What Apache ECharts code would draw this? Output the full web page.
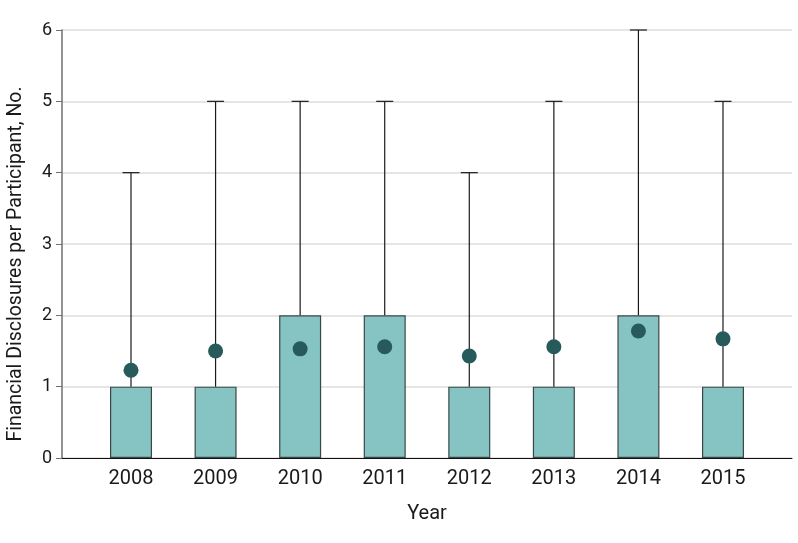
<!DOCTYPE html>
<html>
<head>
<meta charset="utf-8">
<script src="https://cdn.jsdelivr.net/npm/echarts@6/dist/echarts.min.js"></script>
<style>html,body{margin:0;padding:0;background:#fff}#c{width:798px;height:543px}</style>
</head>
<body>
<div id="c"></div>
<script>
const years = [2008, 2009, 2010, 2011, 2012, 2013, 2014, 2015];
const upperQuartile = [1, 1, 2, 2, 1, 1, 2, 1];
const maxValues = [4, 5, 5, 5, 4, 5, 6, 5];
const means = [1.23, 1.50, 1.53, 1.56, 1.43, 1.56, 1.78, 1.67];
const yTicks = [0, 1, 2, 3, 4, 5, 6];

const FONT = 'Roboto';
const chart = echarts.init(document.getElementById('c'));
chart.setOption({
  animation: false,
  backgroundColor: '#fff',
  grid: { left: 62, right: 6, top: 30, bottom: 85, containLabel: false, outerBoundsMode: 'none' },
  xAxis: {
    type: 'value',
    min: years[0] - 0.816,
    max: years[years.length - 1] + 0.816,
    name: 'Year',
    nameLocation: 'middle',
    nameGap: 46,
    nameTextStyle: { fontFamily: FONT, fontSize: 20, color: '#1a1a1a' },
    axisLine: { show: true, onZero: false, lineStyle: { color: '#111', width: 1 } },
    axisTick: { show: false },
    splitLine: { show: false },
    axisLabel: {
      customValues: years,
      margin: 11,
      fontFamily: FONT, fontSize: 20, color: '#1a1a1a',
      formatter: v => String(Math.round(v))
    }
  },
  yAxis: {
    type: 'value',
    min: yTicks[0],
    max: yTicks[yTicks.length - 1],
    interval: 1,
    name: 'Financial Disclosures per Participant, No.',
    nameLocation: 'middle',
    nameGap: 36,
    nameTextStyle: { fontFamily: FONT, fontSize: 19.5, color: '#1a1a1a', padding: [0, 40, 0, 0] },
    axisLine: { show: true, lineStyle: { color: '#6f6f6f', width: 1.5 } },
    axisTick: { show: true, length: 6, lineStyle: { color: '#6f6f6f' } },
    axisLabel: { margin: 10, fontFamily: FONT, fontSize: 18, color: '#1a1a1a' },
    splitLine: { show: true, lineStyle: { color: '#dcdcdc', width: 1.5 } }
  },
  series: [
    {
      type: 'bar',
      data: years.map((y, i) => [y, upperQuartile[i]]),
      barWidth: 42,
      itemStyle: { color: '#86c4c3', borderColor: '#3a4747', borderWidth: 1.2 },
      z: 2
    },
    {
      type: 'custom',
      clip: false,
      data: years.map((y, i) => [y, upperQuartile[i], maxValues[i]]),
      renderItem: function (params, api) {
        const x = api.value(0);
        const p1 = api.coord([x, api.value(1)]);
        const p2 = api.coord([x, api.value(2)]);
        return {
          type: 'group',
          children: [
            { type: 'line', shape: { x1: p1[0], y1: p1[1], x2: p2[0], y2: p2[1] }, style: { stroke: '#1a1a1a', lineWidth: 1.2 } },
            { type: 'line', shape: { x1: p2[0] - 8.5, y1: p2[1], x2: p2[0] + 8.5, y2: p2[1] }, style: { stroke: '#1a1a1a', lineWidth: 1.2 } }
          ]
        };
      },
      z: 3
    },
    {
      type: 'scatter',
      data: years.map((y, i) => [y, means[i]]),
      symbol: 'circle',
      symbolSize: 15,
      itemStyle: { color: '#265a5b', opacity: 1 },
      z: 4
    }
  ]
});
</script>
</body>
</html>
